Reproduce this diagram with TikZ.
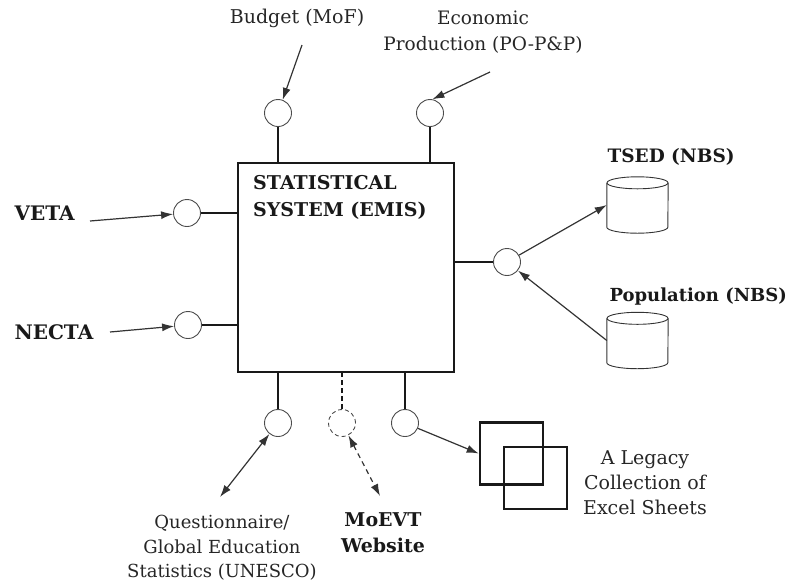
\documentclass[tikz,border=0pt]{standalone}
\usepackage{fontspec}
\setmainfont{DejaVu Serif}
\usetikzlibrary{positioning, arrows.meta, shapes.geometric}

\begin{document}
\begin{tikzpicture}[
    x=1pt, y=-1pt,
    port_style/.style={circle, draw=black!70, line width=0.9pt, minimum size=27pt, inner sep=0pt},
    link_style/.style={black!90, line width=1.4pt},
    flow_style/.style={black!80, line width=1.2pt, -{Latex[length=12pt,width=8pt]}},
    both_style/.style={{Latex[length=12pt,width=8pt]}-{Latex[length=12pt,width=8pt]}},
    text_style/.style={font=\fontsize{19}{25}\selectfont, align=center, text=black!85},
    bold_style/.style={font=\fontsize{19}{26}\selectfont\bfseries, align=left, text=black!90},
    store_style/.style={rectangle, minimum width=61pt, minimum height=56pt, inner sep=0pt},
    store_line/.style={draw=black!80, line width=0.9pt},
    sheet_style/.style={draw=black!90, line width=2.6pt, minimum width=63pt, minimum height=62pt, inner sep=0pt}
]
    \useasboundingbox (0,0) rectangle (792,582);

    % Coordinates
    \coordinate (veta_tail) at (90,221);
    \coordinate (necta_tail) at (110,332);
    \coordinate (budget_tail) at (302,45);
    \coordinate (econ_tail) at (490,72);
    \coordinate (quest_end) at (220,497);
    \coordinate (web_end) at (380,496);

    % Main system box
    \node[draw=black!90, line width=2.6pt, minimum width=216pt, minimum height=209pt, inner sep=0pt] (emis) at (346,267.5) {};
    \node[bold_style, font=\fontsize{19}{27}\selectfont\bfseries, anchor=west, inner sep=0pt] (emis_text) at (253,197) {STATISTICAL\\SYSTEM (EMIS)};

    % Ports
    \node[port_style] (veta_port) at (187,213) {};
    \node[port_style] (necta_port) at (188,325) {};
    \node[port_style] (budget_port) at (278,113) {};
    \node[port_style] (econ_port) at (430,113) {};
    \node[port_style] (nbs_port) at (507,262) {};
    \node[port_style] (quest_port) at (278,423) {};
    \node[port_style, dash pattern=on 4pt off 3pt] (web_port) at (342,423) {};
    \node[port_style] (excel_port) at (405,423) {};

    % Stores and sheets
    \node[store_style] (tsed) at (637.5,205) {};
    \node[store_style] (pop) at (637.5,340.5) {};
    \foreach \s in {tsed, pop} {
        \draw[store_line] ([yshift=-6pt]\s.north west) -- ([yshift=6pt]\s.south west)
            arc[start angle=180, end angle=360, x radius=30.5pt, y radius=6pt]
            -- ([yshift=-6pt]\s.north east);
        \draw[store_line] ([yshift=-6pt]\s.north) ellipse[x radius=30.5pt, y radius=6pt];
    }
    \node[sheet_style] (sheet_a) at (511.5,453.5) {};
    \node[sheet_style] (sheet_b) at (535.5,478) {};

    % Links to the box
    \draw[link_style] (veta_port) -- (veta_port -| emis.west);
    \draw[link_style] (necta_port) -- (necta_port -| emis.west);
    \draw[link_style] (budget_port) -- (budget_port |- emis.north);
    \draw[link_style] (econ_port) -- (econ_port |- emis.north);
    \draw[link_style] (nbs_port) -- (nbs_port -| emis.east);
    \draw[link_style] (quest_port) -- (quest_port |- emis.south);
    \draw[link_style, dash pattern=on 5pt off 3pt] (web_port) -- (web_port |- emis.south);
    \draw[link_style] (excel_port) -- (excel_port |- emis.south);

    % Flows
    \draw[flow_style] (veta_tail) -- (veta_port);
    \draw[flow_style] (necta_tail) -- (necta_port);
    \draw[flow_style] (budget_tail) -- (budget_port);
    \draw[flow_style] (econ_tail) -- (econ_port.80);
    \draw[flow_style] (nbs_port) -- (tsed.west);
    \draw[flow_style] (pop.west) -- (nbs_port);
    \draw[flow_style, both_style] (quest_port) -- (quest_end);
    \draw[flow_style, both_style, dash pattern=on 5pt off 4pt] (web_port) -- (web_end);
    \draw[flow_style] (excel_port) -- (sheet_a.west);

    % Labels
    \node[bold_style, font=\fontsize{20}{26}\selectfont\bfseries, anchor=west] (veta) at (11,213) {VETA};
    \node[bold_style, font=\fontsize{20}{26}\selectfont\bfseries, anchor=west] (necta) at (11,332) {NECTA};
    \node[text_style] (budget) at (297,18) {Budget (MoF)};
    \node[text_style, font=\fontsize{18.5}{26}\selectfont] (econ) at (483,32.5) {Economic\\Production (PO-P\&P)};
    \node[bold_style, font=\fontsize{18.5}{26}\selectfont\bfseries, anchor=west] (tsed_label) at (604,157) {TSED (NBS)};
    \node[bold_style, font=\fontsize{18}{26}\selectfont\bfseries, anchor=west] (pop_label) at (606,297) {Population (NBS)};
    \node[text_style, font=\fontsize{18}{24.5}\selectfont] (quest) at (222,548) {Questionnaire/\\Global Education\\Statistics (UNESCO)};
    \node[bold_style, align=center] (web) at (383,532.5) {MoEVT\\Website};
    \node[text_style] (legacy) at (645,483) {A Legacy\\Collection of\\Excel Sheets};
\end{tikzpicture}
\end{document}
